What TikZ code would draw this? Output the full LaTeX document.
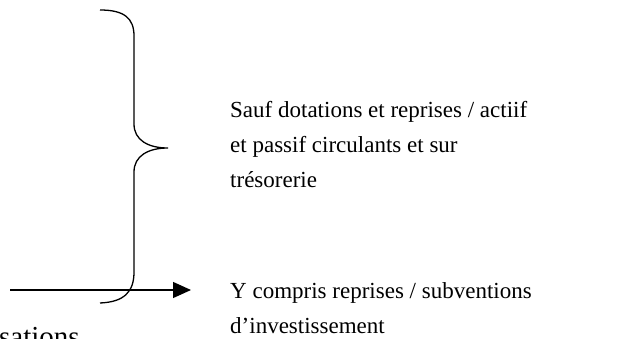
\documentclass[tikz,border=0pt]{standalone}
\usepackage{fontspec}
\setmainfont{Liberation Serif}
\usetikzlibrary{arrows.meta}
\begin{document}
\begin{tikzpicture}[x=1pt,y=-1pt,
  lbl/.style={anchor=base west,inner sep=0pt,align=left,font=\fontsize{23}{35}\selectfont},
  ln/.style={line width=1.3pt,black}]
\useasboundingbox (0,0) rectangle (628,339);
% brace
\draw[ln] (100,10) .. controls (124,10) and (134,18) .. (134,36)
  -- (134,124) .. controls (134,140) and (148,148) .. (168,148)
  .. controls (148,148) and (134,156) .. (134,172)
  -- (134,272) .. controls (134,292) and (124,302) .. (100,303);
% labels
\node[lbl] (t1) at (230,187) {Sauf dotations et reprises / actiif\\et passif circulants et sur\\trésorerie};
\node[lbl] (t2) at (230,333) {Y compris reprises / subventions\\d’investissement};
\node[lbl,font=\fontsize{29}{35}\selectfont] (t3) at (-1,346) {sations};
% arrow
\coordinate (a0) at (10,290);
\coordinate (a1) at (191,290);
\draw[ln,-{Triangle[length=18pt,width=16pt]}] (a0) -- (a1);
\end{tikzpicture}
\end{document}
